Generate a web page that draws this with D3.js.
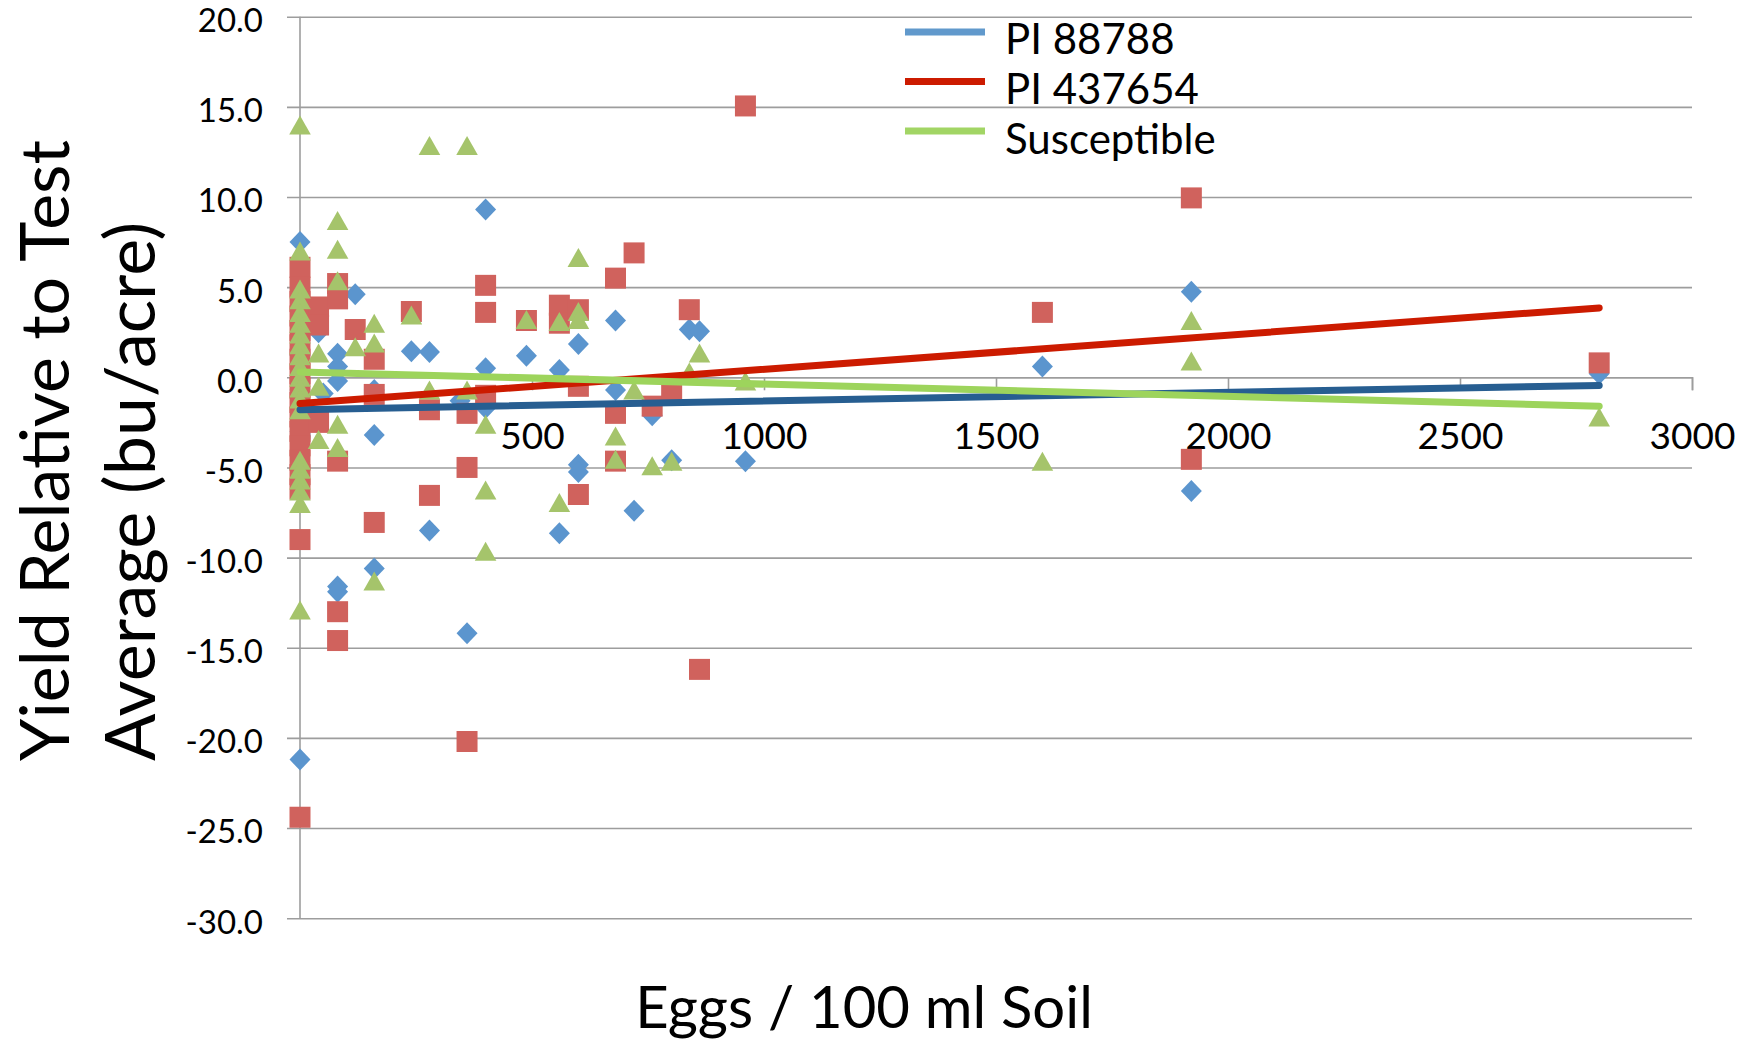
<!DOCTYPE html>
<html>
<head>
<meta charset="utf-8">
<script src="https://cdn.jsdelivr.net/npm/d3@7"></script>
<style>
  body { margin: 0; background: #fff; }
  svg { display: block; font-family: Lato, "Open Sans", sans-serif; }
</style>
</head>
<body>
<svg id="chart" width="1755" height="1040"></svg>
<script>
// series: [eggs per 100 ml soil, yield relative to test average]
var pi88788 = [
  [0,7.5],[0,1.2],[0,-0.7],[0,-3.0],[0,-21.2],
  [40,2.5],[50,-0.9],
  [81,1.3],[81,0.6],[81,-0.2],[81,-11.6],[81,-11.9],
  [119,4.6],
  [160,-0.7],[160,-3.2],[160,-10.6],
  [240,1.45],
  [279,1.4],[279,-8.5],
  [345,-1.3],[360,-14.2],
  [400,9.3],[400,0.5],[400,-1.7],
  [488,1.2],
  [559,0.4],[559,-8.65],
  [600,1.85],[600,-4.85],[600,-5.25],
  [680,3.15],[680,-0.7],
  [720,-7.4],
  [759,-2.1],
  [801,-4.6],
  [839,2.65],[861,2.55],
  [960,-4.65],
  [1600,0.6],
  [1921,4.75],[1921,-6.3],
  [2800,0.2]
];
var pi437654 = [
  [0,6.1],[0,5.0],[0,4.2],[0,3.4],[0,2.6],[0,1.8],[0,1.0],[0,0.2],[0,-0.6],
  [0,-1.4],[0,-2.2],[0,-3.0],[0,-3.8],[0,-4.6],[0,-5.4],[0,-6.2],[0,-9.0],[0,-24.4],
  [40,3.9],[40,2.9],[40,-2.5],
  [81,5.2],[81,4.35],[81,-4.65],[81,-13.0],[81,-14.6],
  [119,2.65],
  [160,1.0],[160,-0.95],[160,-8.05],
  [240,3.65],
  [279,-1.8],[279,-6.55],
  [360,-2.0],[360,-5.0],[360,-20.2],
  [400,5.1],[400,3.6],[400,-1.0],
  [488,3.15],
  [559,4.0],[559,3.0],
  [600,3.75],[600,-0.5],[600,-6.5],
  [680,5.5],[680,-2.0],[680,-4.65],
  [720,6.9],
  [759,-1.6],
  [801,-0.7],
  [839,3.75],
  [861,-16.2],
  [960,15.05],
  [1600,3.6],
  [1921,9.95],[1921,-4.55],
  [2800,0.8]
];
var susceptible = [
  [0,14.0],[0,7.0],[0,4.9],[0,4.3],[0,3.6],[0,3.0],[0,2.4],[0,1.8],[0,1.2],[0,0.6],
  [0,0.0],[0,-0.6],[0,-1.2],[0,-1.8],[0,-4.6],[0,-5.1],[0,-5.7],[0,-6.3],[0,-7.0],[0,-12.9],
  [40,1.35],[40,-0.5],[40,-3.45],
  [81,8.7],[81,7.1],[81,5.35],[81,-2.6],[81,-3.9],
  [119,1.7],
  [160,3.0],[160,1.9],[160,-11.3],
  [240,3.45],
  [279,12.85],[279,-0.7],
  [360,12.85],[360,-0.7],
  [400,-2.6],[400,-6.25],[400,-9.65],
  [488,3.2],
  [559,3.1],[559,-6.95],
  [600,6.65],[600,3.65],[600,3.2],
  [680,-3.25],[680,-4.55],
  [720,-0.7],
  [759,-4.9],
  [801,-4.65],
  [839,0.3],
  [861,1.35],
  [960,-0.2],
  [1600,-4.65],
  [1921,3.15],[1921,0.9],
  [2800,-2.2]
];

// linear trendlines, value at start and end of data range
var trendX = [0, 2800];
var trendPI88788 = [-1.8, -0.45];
var trendPI437654 = [-1.45, 3.85];
var trendSusceptible = [0.3, -1.6];

var seriesNames = ["PI 88788", "PI 437654", "Susceptible"];
var xTicks = [0, 500, 1000, 1500, 2000, 2500, 3000];
var yTicks = [20, 15, 10, 5, 0, -5, -10, -15, -20, -25, -30];

var svg = d3.select("#chart");

var x = d3.scaleLinear().domain([0, 3000]).range([300, 1692]);
var y = d3.scaleLinear().domain([-30, 20]).range([918.2, 16.7]);

var gridColor = "#9d9d9d";

// horizontal gridlines + y labels
var yAxis = svg.append("g")
    .attr("transform", "translate(287,0)")
    .call(d3.axisLeft(y)
        .tickValues(yTicks)
        .tickSize(-(x(3000) - 287))
        .tickPadding(24)
        .tickFormat(function(d) { return d.toFixed(1); }));
yAxis.select(".domain").remove();
yAxis.selectAll(".tick line")
    .attr("stroke", gridColor)
    .attr("stroke-width", 1.6);
yAxis.selectAll(".tick text")
    .attr("font-family", "Lato")
    .attr("font-size", 33)
    .attr("dy", "0.45em")
    .attr("fill", "#000");

// vertical axis line
svg.append("line")
    .attr("x1", x(0)).attr("x2", x(0))
    .attr("y1", y(20)).attr("y2", y(-30))
    .attr("stroke", gridColor)
    .attr("stroke-width", 1.6);

// x axis crossing at zero
var xAxis = svg.append("g")
    .attr("transform", "translate(0," + y(0) + ")")
    .call(d3.axisBottom(x)
        .tickValues(xTicks)
        .tickSize(13)
        .tickPadding(32)
        .tickFormat(function(d) { return String(d); }));
xAxis.select(".domain")
    .attr("stroke", gridColor)
    .attr("stroke-width", 1.6);
xAxis.selectAll(".tick line")
    .attr("stroke", gridColor)
    .attr("stroke-width", 1.6);
xAxis.selectAll(".tick text")
    .attr("font-family", "Lato")
    .attr("font-size", 37)
    .attr("fill", "#000");

// markers
var diamond = "M0,-11L10.5,0L0,11L-10.5,0Z";
var square = "M-10.5,-10.5H10.5V10.5H-10.5Z";
var triangle = "M0,-9.5L10.8,9.5L-10.8,9.5Z";

function drawMarkers(data, shape, color) {
    svg.append("g").selectAll("path")
        .data(data)
        .enter().append("path")
        .attr("d", shape)
        .attr("transform", function(d) { return "translate(" + x(d[0]) + "," + y(d[1]) + ")"; })
        .attr("fill", color);
}
drawMarkers(pi88788, diamond, "#5b95ce");
drawMarkers(pi437654, square, "#d0625d");
drawMarkers(susceptible, triangle, "#a5c46b");

// trendlines
var line = d3.line()
    .x(function(d) { return x(d[0]); })
    .y(function(d) { return y(d[1]); });

function drawTrend(vals, color) {
    svg.append("path")
        .datum(trendX.map(function(v, i) { return [v, vals[i]]; }))
        .attr("d", line)
        .attr("fill", "none")
        .attr("stroke", color)
        .attr("stroke-width", 7)
        .attr("stroke-linecap", "round");
}
drawTrend(trendPI88788, "#275e91");
drawTrend(trendPI437654, "#cc1b00");
drawTrend(trendSusceptible, "#9dd45c");

// legend
var legendColors = ["#6199cc", "#cc1b00", "#a2d565"];
var legend = svg.append("g");
seriesNames.forEach(function(name, i) {
    legend.append("line")
        .attr("x1", 905).attr("x2", 985)
        .attr("y1", 32 + i * 49.5).attr("y2", 32 + i * 49.5)
        .attr("stroke", legendColors[i])
        .attr("stroke-width", 7);
    legend.append("text")
        .attr("x", 1005)
        .attr("y", 54 + i * 50)
        .attr("font-size", 42)
        .attr("fill", "#000")
        .text(name);
});

// axis titles
svg.append("text")
    .attr("transform", "translate(69,761) rotate(-90)")
    .attr("font-size", 68)
    .attr("fill", "#000")
    .text("Yield Relative to Test");
svg.append("text")
    .attr("transform", "translate(155,761) rotate(-90)")
    .attr("font-size", 70)
    .attr("fill", "#000")
    .text("Average (bu/acre)");

svg.append("text")
    .attr("x", 864)
    .attr("y", 1028)
    .attr("text-anchor", "middle")
    .attr("font-size", 58)
    .attr("fill", "#000")
    .text("Eggs / 100 ml Soil");
</script>
</body>
</html>
